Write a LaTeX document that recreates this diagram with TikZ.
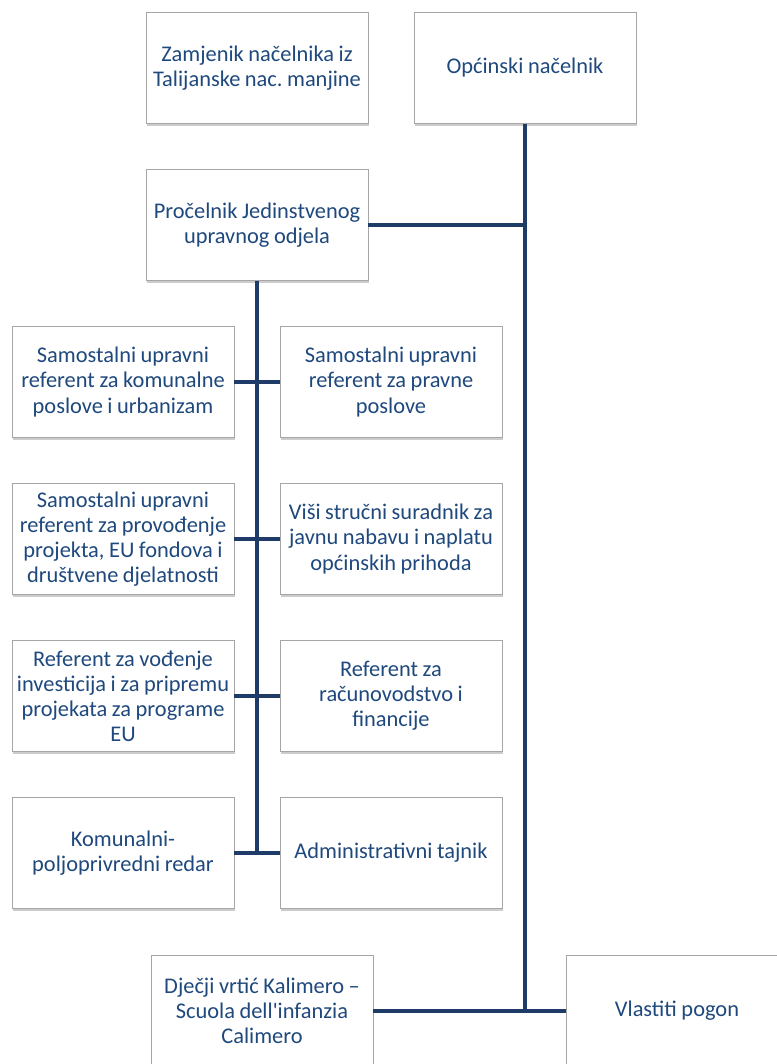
\documentclass[tikz,border=0pt]{standalone}
\usepackage{fontspec}
\setmainfont[WordSpace=0.9]{Carlito}
\usetikzlibrary{shadows}
\definecolor{navy}{HTML}{1F3B68}
\definecolor{txtblue}{HTML}{1F497D}
\frenchspacing

\begin{document}
\begin{tikzpicture}[x=0.75pt, y=-0.75pt,
        box/.style={rectangle, draw=black!35, line width=0.6pt, fill=white,
            drop shadow={shadow xshift=0.6pt, shadow yshift=-1.8pt, opacity=0.4},
            minimum width=166.5pt, minimum height=83pt, align=center,
            inner xsep=1pt, text=txtblue, font=\fontsize{16.8}{18.8}\selectfont},
        link/.style={draw=navy, line width=3.6pt}]
        \useasboundingbox (0, 0) rectangle (776, 1064);

        \node[box] (zam) at (257, 68) {Zamjenik načelnika iz\\Talijanske nac. manjine};
        \node[box] (opc) at (525, 68) {Općinski načelnik};
        \node[box] (pro) at (257, 225) {Pročelnik Jedinstvenog\\upravnog odjela};

        \node[box] (kom) at (123, 382) {Samostalni upravni\\referent za komunalne\\poslove i urbanizam};
        \node[box] (pra) at (391, 382) {Samostalni upravni\\referent za pravne\\poslove};
        \node[box] (eu) at (123, 539) {Samostalni upravni\\referent za provođenje\\projekta, EU fondova i\\društvene djelatnosti};
        \node[box] (nab) at (391, 539) {Viši stručni suradnik za\\javnu nabavu i naplatu\\općinskih prihoda};
        \node[box] (inv) at (123, 696) {Referent za vođenje\\investicija i za pripremu\\projekata za programe\\EU};
        \node[box] (rac) at (391, 696) {Referent za\\računovodstvo i\\financije};
        \node[box] (red) at (123, 853) {Komunalni-\\poljoprivredni redar};
        \node[box] (taj) at (391, 853) {Administrativni tajnik};

        \node[box] (vrt) at (262, 1011) {Dječji vrtić Kalimero –\\Scuola dell\textquotesingle infanzia\\Calimero};
        \node[box] (vla) at (677, 1011) {Vlastiti pogon};

        \draw[link] (opc.south) -- (opc.south |- vla.west);
        \draw[link] (pro.east) -- (pro.east -| opc.south);
        \draw[link] (pro.south) -- (pro.south |- red.east);
        \draw[link] (kom) -- (pra);
        \draw[link] (eu) -- (nab);
        \draw[link] (inv) -- (rac);
        \draw[link] (red) -- (taj);
        \draw[link] (vrt) -- (vla);
    \end{tikzpicture}
\end{document}
